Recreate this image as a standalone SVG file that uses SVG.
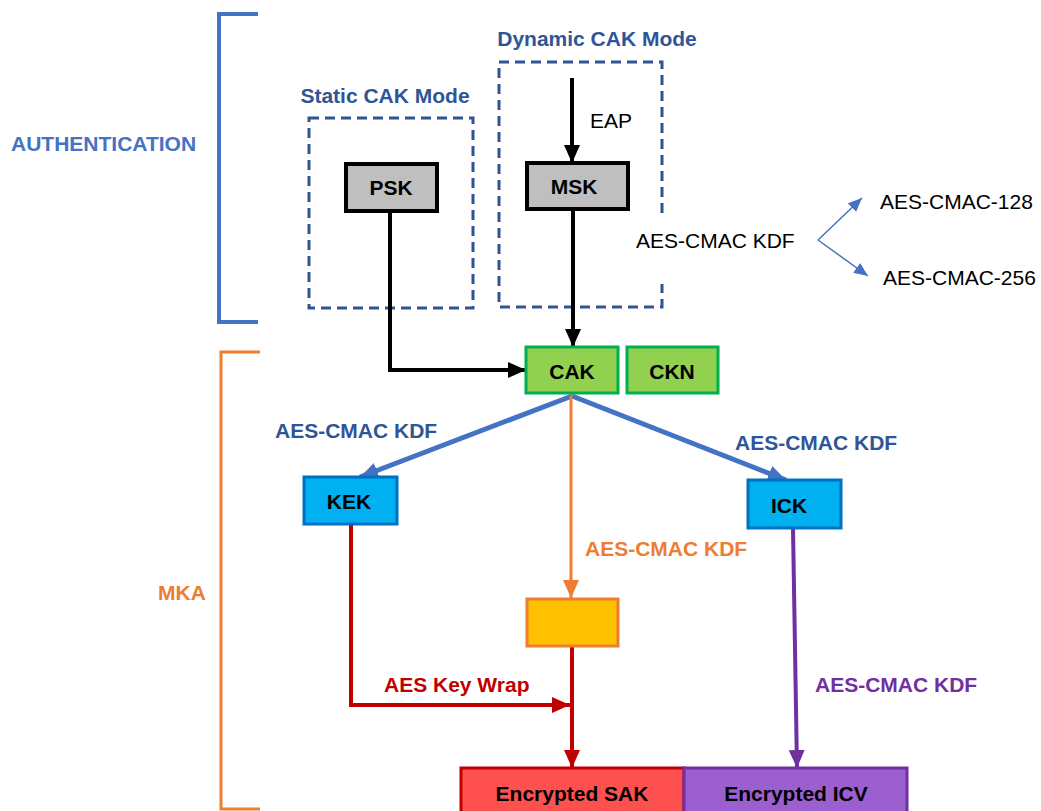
<svg xmlns="http://www.w3.org/2000/svg" width="1041" height="811" viewBox="0 0 1041 811">
<style>
.t{font-family:"Liberation Sans",Arial,sans-serif}
.b{font-weight:bold}
.dash{fill:none;stroke:#2F5597;stroke-width:3;stroke-dasharray:10,6}
.lbl{font-size:21px;font-weight:bold;text-anchor:middle;font-family:"Liberation Sans",Arial,sans-serif;fill:#000}
</style>
<defs>
<marker id="aK" markerUnits="userSpaceOnUse" markerWidth="20" markerHeight="18" refX="18" refY="8" orient="auto"><path d="M0,0 L18,8 L0,16 z" fill="#000"/></marker>
<marker id="aB" markerUnits="userSpaceOnUse" markerWidth="20" markerHeight="18" refX="18" refY="8" orient="auto"><path d="M0,0 L18,8 L0,16 z" fill="#4472C4"/></marker>
<marker id="aO" markerUnits="userSpaceOnUse" markerWidth="20" markerHeight="18" refX="18" refY="8" orient="auto"><path d="M0,0 L18,8 L0,16 z" fill="#ED7D31"/></marker>
<marker id="aR" markerUnits="userSpaceOnUse" markerWidth="20" markerHeight="18" refX="18" refY="8" orient="auto"><path d="M0,0 L18,8 L0,16 z" fill="#C00000"/></marker>
<marker id="aP" markerUnits="userSpaceOnUse" markerWidth="20" markerHeight="18" refX="18" refY="8" orient="auto"><path d="M0,0 L18,8 L0,16 z" fill="#7030A0"/></marker>
<marker id="aT" markerUnits="userSpaceOnUse" markerWidth="16" markerHeight="14" refX="14" refY="6" orient="auto"><path d="M0,0 L14,6 L0,12 z" fill="#4472C4"/></marker>
</defs>
<rect width="1041" height="811" fill="#fff"/>

<g id="brackets">
<path d="M258,14 H219 V322 H258" fill="none" stroke="#4472C4" stroke-width="4"/>
<path d="M260,352 H221 V809 H260" fill="none" stroke="#ED7D31" stroke-width="3"/>
<text class="t b" x="11" y="151" font-size="21" fill="#4472C4">AUTHENTICATION</text>
<text class="t b" x="182" y="600" font-size="21" fill="#ED7D31" text-anchor="middle">MKA</text>
</g>

<g id="static-mode">
<rect class="dash" x="309" y="118" width="164" height="190"/>
<text class="t b" x="385" y="103" font-size="21" fill="#2F5597" text-anchor="middle">Static CAK Mode</text>
</g>
<g id="dynamic-mode">
<rect class="dash" x="499" y="62" width="163" height="245"/>
<text class="t b" x="597" y="46" font-size="21" fill="#2F5597" text-anchor="middle">Dynamic CAK Mode</text>
</g>

<g id="connectors">
<line x1="572" y1="78" x2="572" y2="163" stroke="#000" stroke-width="4" marker-end="url(#aK)"/>
<line x1="573" y1="211" x2="573" y2="347" stroke="#000" stroke-width="4" marker-end="url(#aK)"/>
<path d="M390,211 V370 H526" fill="none" stroke="#000" stroke-width="4" marker-end="url(#aK)"/>
<line x1="572" y1="396" x2="360" y2="477" stroke="#4472C4" stroke-width="5" marker-end="url(#aB)"/>
<line x1="572" y1="396" x2="786" y2="480" stroke="#4472C4" stroke-width="5" marker-end="url(#aB)"/>
<line x1="571" y1="396" x2="571" y2="598" stroke="#ED7D31" stroke-width="3" marker-end="url(#aO)"/>
<path d="M351,524 V705 H570" fill="none" stroke="#C00000" stroke-width="4" marker-end="url(#aR)"/>
<line x1="572" y1="646" x2="572" y2="768" stroke="#C00000" stroke-width="4" marker-end="url(#aR)"/>
<line x1="793" y1="528" x2="797" y2="768" stroke="#7030A0" stroke-width="4" marker-end="url(#aP)"/>
<line x1="818" y1="240" x2="862" y2="198" stroke="#4472C4" stroke-width="1.5" marker-end="url(#aT)"/>
<line x1="818" y1="240" x2="868" y2="276" stroke="#4472C4" stroke-width="1.5" marker-end="url(#aT)"/>
</g>

<g id="labels">
<text class="t" x="590" y="128" font-size="21" fill="#000">EAP</text>
<rect x="632" y="218" width="170" height="66" fill="#fff"/>
<text class="t" x="636" y="248" font-size="21" fill="#000">AES-CMAC KDF</text>
<text class="t" x="880" y="209" font-size="21" fill="#000">AES-CMAC-128</text>
<text class="t" x="883" y="285" font-size="21" fill="#000">AES-CMAC-256</text>
<text class="t b" x="275" y="438" font-size="21" fill="#2F5597">AES-CMAC KDF</text>
<text class="t b" x="735" y="450" font-size="21" fill="#2F5597">AES-CMAC KDF</text>
<text class="t b" x="585" y="556" font-size="21" fill="#ED7D31">AES-CMAC KDF</text>
<text class="t b" x="384" y="692" font-size="21" fill="#C00000">AES Key Wrap</text>
<text class="t b" x="815" y="692" font-size="21" fill="#7030A0">AES-CMAC KDF</text>
</g>

<g id="psk"><rect x="346" y="164" width="91" height="47" fill="#BFBFBF" stroke="#000" stroke-width="4"/><text class="lbl" x="391" y="195">PSK</text></g>
<g id="msk"><rect x="527" y="163" width="101" height="46" fill="#BFBFBF" stroke="#000" stroke-width="4"/><text class="lbl" x="574" y="194">MSK</text></g>
<g id="cak"><rect x="526" y="347" width="92" height="46" fill="#92D050" stroke="#00B050" stroke-width="3"/><text class="lbl" x="572" y="379">CAK</text></g>
<g id="ckn"><rect x="627" y="347" width="91" height="46" fill="#92D050" stroke="#00B050" stroke-width="3"/><text class="lbl" x="672" y="379">CKN</text></g>
<g id="kek"><rect x="304" y="477" width="93" height="47" fill="#00B0F0" stroke="#0070C0" stroke-width="3"/><text class="lbl" x="349" y="509">KEK</text></g>
<g id="ick"><rect x="748" y="480" width="93" height="48" fill="#00B0F0" stroke="#0070C0" stroke-width="3"/><text class="lbl" x="789" y="513">ICK</text></g>
<g id="sak-box"><rect x="527" y="599" width="91" height="47" fill="#FFC000" stroke="#ED7D31" stroke-width="3"/></g>
<g id="enc-sak"><rect x="461" y="768" width="223" height="50" fill="#FF5050" stroke="#C00000" stroke-width="3"/><text class="lbl" x="572" y="801" font-size="22">Encrypted SAK</text></g>
<g id="enc-icv"><rect x="684" y="768" width="223" height="50" fill="#9B5FCF" stroke="#7030A0" stroke-width="3"/><text class="lbl" x="796" y="801" font-size="22">Encrypted ICV</text></g>
</svg>
